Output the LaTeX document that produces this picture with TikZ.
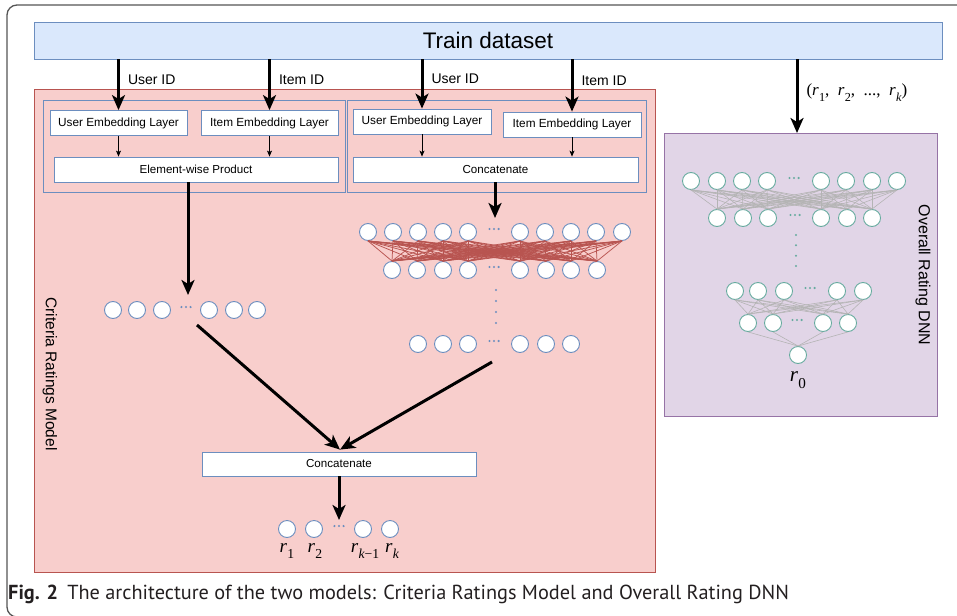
\documentclass[tikz,border=0pt]{standalone}
\usepackage{fontspec}
\setmainfont{Liberation Sans}
\newfontfamily\capfont{PT Sans}
\newfontfamily\tms{Liberation Serif}
\usetikzlibrary{arrows.meta}
\definecolor{bblue}{HTML}{6C8EBF}
\definecolor{bfill}{HTML}{DAE8FC}
\definecolor{rfill}{HTML}{F8CECC}
\definecolor{rline}{HTML}{B85450}
\definecolor{pfill}{HTML}{E1D5E7}
\definecolor{pline}{HTML}{9673A6}
\definecolor{tealc}{HTML}{67AB9F}
\definecolor{gedge}{HTML}{B4B4B4}
\definecolor{frame}{HTML}{555555}
\definecolor{captext}{HTML}{231F20}
% italic rating symbol with a small lowered index
\newcommand{\rsym}[1]{{\tms\itshape r}\kern0.3pt\raisebox{-0.32em}{\scalebox{0.72}{\tms #1}}}
\begin{document}
\begin{tikzpicture}[x=1pt,y=-1pt,
  neuron/.style={circle, draw=bblue, fill=white, line width=0.9pt, minimum size=17pt, inner sep=0pt},
  tneuron/.style={neuron, draw=tealc},
  bigarrow/.style={line width=3pt, -{Stealth[length=15pt,width=13pt,inset=4pt]}},
  smallarrow/.style={line width=0.7pt, -{Stealth[length=6pt,width=5pt,inset=1.5pt]}},
  box/.style={draw=bblue, fill=white, line width=0.8pt, minimum height=25pt, inner sep=0pt},
  idlabel/.style={font=\fontsize{14}{15}\selectfont, anchor=west, inner sep=0pt},
  redge/.style={draw=rline, line width=0.75pt},
  gredge/.style={draw=gedge, line width=0.6pt},
  panel/.style={line width=0.9pt, inner sep=0pt},
  rlabel/.style={font=\fontsize{19}{20}\selectfont, inner sep=0pt}
]
\useasboundingbox (0,0) rectangle (957,615);

% three dots marking omitted neurons
\newcommand{\hdotsat}[4]{%
  \coordinate (#1) at (#2,#3);
  \foreach \d in {-4.6,0,4.6} \fill[#4] ([xshift=\d pt]#1) circle (1.15pt);}

% outer frame
\draw[frame, line width=1.3pt, rounded corners=10pt] (7,5) rectangle (985,617);

% training data bar
\node[panel, draw=bblue, fill=bfill, minimum width=908pt, minimum height=37pt,
      font=\fontsize{22.5}{25}\selectfont] (train) at (488,40.5) {Train dataset};

% criteria ratings model panel
\node[panel, draw=rline, fill=rfill, minimum width=621pt, minimum height=483pt] (crm) at (344.5,330.5) {};
\node[rotate=-90, font=\fontsize{15.5}{17}\selectfont] (crmlabel) at (50,374) {Criteria Ratings Model};

% embedding groups
\node[panel, draw=bblue, fill=rfill, minimum width=302pt, minimum height=92pt] (grpL) at (194,146) {};
\node[panel, draw=bblue, fill=rfill, minimum width=299pt, minimum height=92pt] (grpR) at (496.5,146) {};

\node[box, minimum width=137pt, font=\fontsize{11.8}{13}\selectfont] (uel1) at (118.5,123) {User Embedding Layer};
\node[box, minimum width=137pt, font=\fontsize{11.8}{13}\selectfont] (iel1) at (269.5,123) {Item Embedding Layer};
\node[box, minimum width=284pt, font=\fontsize{11.6}{13}\selectfont] (ewp) at (196,169.5) {Element-wise Product};

\node[box, minimum width=138pt, font=\fontsize{11.8}{13}\selectfont] (uel2) at (422,121.5) {User Embedding Layer};
\node[box, minimum width=138pt, font=\fontsize{11.8}{13}\selectfont] (iel2) at (572,124.5) {Item Embedding Layer};
\node[box, minimum width=285pt, font=\fontsize{11.6}{13}\selectfont] (cat1) at (495.5,169.5) {Concatenate};

\node[box, minimum width=274pt, minimum height=24pt, font=\fontsize{11.6}{13}\selectfont] (cat2) at (339,464) {Concatenate};

% inputs from the training data
\draw[bigarrow] (uel1.north |- train.south) -- node[idlabel, pos=0.4, xshift=8pt] (lu1) {User ID} (uel1.north);
\draw[bigarrow] (iel1.north |- train.south) -- node[idlabel, pos=0.4, xshift=8pt] (li1) {Item ID} (iel1.north);
\draw[bigarrow] (uel2.north |- train.south) -- node[idlabel, pos=0.4, xshift=8pt] (lu2) {User ID} (uel2.north);
\draw[bigarrow] (iel2.north |- train.south) -- node[idlabel, pos=0.4, xshift=8pt] (li2) {Item ID} (iel2.north);

\draw[smallarrow] (uel1.south) -- (uel1.south |- ewp.north);
\draw[smallarrow] (iel1.south) -- (iel1.south |- ewp.north);
\draw[smallarrow] (uel2.south) -- (uel2.south |- cat1.north);
\draw[smallarrow] (iel2.south) -- (iel2.south |- cat1.north);

% element-wise product output layer
\foreach \x [count=\i] in {113,137,162,209,234,257}
  \node[neuron] (l\i) at (\x,310) {};
\hdotsat{ldots}{186}{307}{bblue}
\coordinate (lin) at (188,295);
\draw[bigarrow] (ewp.south -| lin) -- (lin);

% multilayer perceptron
\foreach \x [count=\i] in {368,393,418,443,468,520,545,571,596,622}
  \node[neuron] (a\i) at (\x,232) {};
\hdotsat{adots}{494}{229}{bblue}
\foreach \x [count=\i] in {392,417,443,468,520,546,571,597}
  \node[neuron] (b\i) at (\x,270) {};
\hdotsat{bdots}{494}{267}{bblue}
\foreach \x [count=\i] in {418,443,468,520,546,571}
  \node[neuron] (c\i) at (\x,344) {};
\hdotsat{cdots}{494}{341}{bblue}
\foreach \y in {290,301,312,323}
  \fill[bblue] (496,\y) circle (1.15pt);
\foreach \i in {1,...,10}
  \foreach \j in {1,...,8}
    \draw[redge] (a\i.south) -- (b\j.north);
\coordinate (rin) at (495,218);
\draw[bigarrow] (cat1.south -| rin) -- (rin);

% merge into the final concatenation
\coordinate (lout) at (197,325);
\coordinate (rout) at (492,362);
\draw[bigarrow] (lout) -- ([xshift=1pt,yshift=2pt]cat2.north);
\draw[bigarrow] (rout) -- ([xshift=1pt,yshift=2pt]cat2.north);

% criteria ratings
\foreach \x [count=\i] in {287,314,363,390}
  \node[neuron] (o\i) at (\x,529) {};
\hdotsat{odots}{339}{526}{bblue}
\coordinate (oin) at (339,520);
\draw[bigarrow] (cat2.south -| oin) -- (oin);
\node[rlabel] (r1) at (287,551) {\rsym{1}};
\node[rlabel] (r2) at (315,551) {\rsym{2}};
\node[rlabel] (rk1) at (365,551) {\rsym{\itshape k\upshape −1}};
\node[rlabel] (rk) at (392,551) {\rsym{\itshape k}};

% overall rating network panel
\node[panel, draw=pline, fill=pfill, minimum width=273pt, minimum height=283pt] (ovp) at (800.5,274.5) {};
\node[rotate=-90, font=\fontsize{16}{18}\selectfont] (ovlabel) at (923,275) {Overall Rating DNN};
\coordinate (pin) at (797,133);
\draw[bigarrow] (pin |- train.south) -- node[anchor=west, pos=0.45, xshift=8pt, inner sep=0pt, font=\tms\fontsize{17}{18}\selectfont] (rvec)
  {(\rsym{1},\enspace\rsym{2},\enspace...,\enspace\rsym{\itshape k})} (pin);

\foreach \x [count=\i] in {691,717,742,767,821,846,872,897}
  \node[tneuron] (p\i) at (\x,181) {};
\hdotsat{pdots1}{794}{178}{tealc}
\foreach \x [count=\i] in {717,743,768,821,847,872}
  \node[tneuron] (q\i) at (\x,218) {};
\hdotsat{pdots2}{795}{215}{tealc}
\foreach \y in {235,245.3,255.7,266}
  \fill[tealc] (796,\y) circle (1.15pt);
\foreach \x [count=\i] in {735,758,784,837,863}
  \node[tneuron] (s\i) at (\x,291) {};
\hdotsat{pdots3}{810}{288}{tealc}
\foreach \x [count=\i] in {748,773,823,848}
  \node[tneuron] (t\i) at (\x,323) {};
\hdotsat{pdots4}{797}{320}{tealc}
\node[tneuron] (u1) at (798,355) {};
\node[rlabel, font=\fontsize{21}{22}\selectfont] (r0) at (798,380) {\rsym{0}};

\foreach \i in {1,...,8}
  \foreach \j in {1,...,6}
    \draw[gredge] (p\i.south) -- (q\j.north);
\foreach \i in {1,...,5}
  \foreach \j in {1,...,4}
    \draw[gredge] (s\i.south) -- (t\j.north);
\foreach \i in {1,...,4}
  \draw[gredge] (t\i.south) -- (u1.north);

% caption
\node[anchor=base west, inner sep=0pt, text=captext, font=\capfont\fontsize{20.3}{22}\selectfont] (cap) at (8,599)
  {\textbf{Fig. 2}\hspace{0.45em}The architecture of the two models: Criteria Ratings Model and Overall Rating DNN};
\end{tikzpicture}
\end{document}
